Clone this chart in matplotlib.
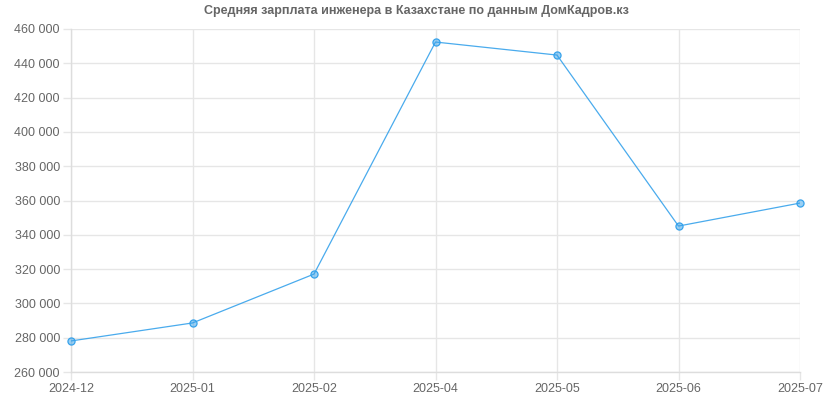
import matplotlib.pyplot as plt
from matplotlib.ticker import FuncFormatter

plt.rcParams['font.family'] = ['Liberation Sans', 'DejaVu Sans']

# Data
months = ["2024-12", "2025-01", "2025-02", "2025-04", "2025-05", "2025-06", "2025-07"]
salary = [278100, 288600, 317100, 452400, 444800, 345100, 358500]

line_color = "#36a2eb"
grid_color = "#e6e6e6"
text_color = "#666666"

fig = plt.figure(figsize=(8.33, 4.15), dpi=100)
ax = fig.add_axes([71 / 833, 1 - 372 / 415, 729 / 833, 343 / 415])

x = list(range(len(months)))
ax.plot(x, salary, color=line_color, linewidth=0.9, alpha=0.9, zorder=3)
ax.scatter(x, salary, s=26, facecolor=(54 / 255, 162 / 255, 235 / 255, 0.5),
           edgecolor=line_color, linewidth=0.9, zorder=4, clip_on=False)

ax.set_xlim(0, len(months) - 1)
ax.set_ylim(260000, 460000)
ax.set_xticks(x)
ax.set_xticklabels(months)
ax.set_yticks(range(260000, 460001, 20000))
ax.yaxis.set_major_formatter(FuncFormatter(lambda v, p: f"{int(v):,}".replace(",", " ")))

ax.grid(True, color=grid_color, linewidth=1.0)
ax.set_axisbelow(True)
for side in ["top", "right"]:
    ax.spines[side].set_visible(False)
for side in ["left", "bottom"]:
    ax.spines[side].set_color("#dddddd")
    ax.spines[side].set_linewidth(1.0)

ax.tick_params(axis="both", colors=grid_color, length=6, width=1.0,
               labelcolor=text_color, labelsize=9, pad=2)

fig.text(0.5, 1 - 11 / 415, "Средняя зарплата инженера в Казахстане по данным ДомКадров.кз",
         ha="center", va="center", fontsize=9, fontweight="bold", color=text_color)

fig.savefig("out.png", dpi=100, facecolor="white")
